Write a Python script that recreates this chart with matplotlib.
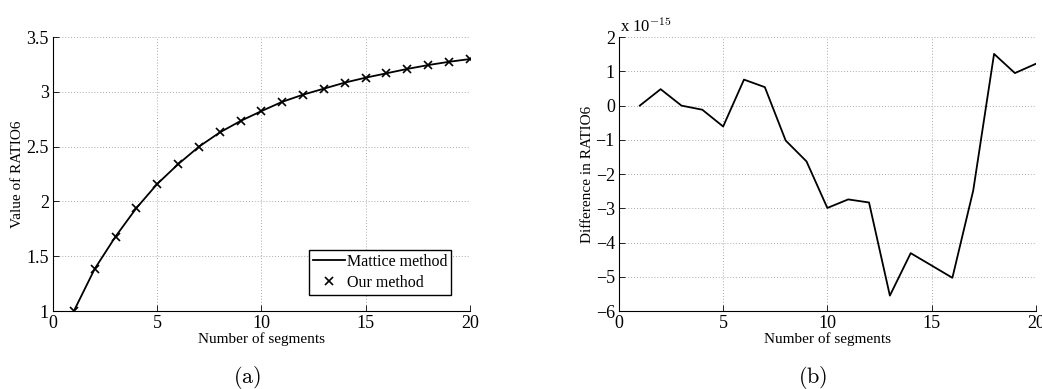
import matplotlib.pyplot as plt

plt.rcParams['font.family'] = ['Liberation Serif', 'DejaVu Serif']
plt.rcParams['mathtext.fontset'] = 'cm'

segments = list(range(1, 21))
ratio6 = [1.00, 1.385, 1.68, 1.94, 2.16, 2.34, 2.50, 2.63, 2.735, 2.825,
          2.91, 2.975, 3.03, 3.085, 3.13, 3.17, 3.21, 3.245, 3.275, 3.30]
# difference in units of 1e-15
diff_e15 = [0.0, 0.48, 0.0, -0.12, -0.61, 0.76, 0.54, -1.02, -1.63, -2.99,
            -2.74, -2.83, -5.55, -4.31, -4.67, -5.03, -2.48, 1.51, 0.95, 1.22]

fig = plt.figure(figsize=(10.42, 3.89), dpi=100, facecolor='white')
ax1 = fig.add_axes([0.0509, 0.2005, 0.400, 0.704])
ax2 = fig.add_axes([0.594, 0.2005, 0.400, 0.704])


def style(ax):
    for s in ['top', 'right']:
        ax.spines[s].set_visible(False)
    ax.spines['left'].set_linewidth(0.8)
    ax.spines['bottom'].set_linewidth(0.8)
    ax.tick_params(direction='in', length=4, width=0.6, labelsize=13, pad=3)
    ax.grid(True, linestyle=(0, (1, 2)), color='#aaaaaa', linewidth=0.7)
    ax.set_axisbelow(True)
    ax.set_xlim(0, 20)
    ax.set_xticks([0, 5, 10, 15, 20])
    ax.set_xlabel('Number of segments', fontsize=11, labelpad=0)


style(ax1)
ax1.plot(segments, ratio6, color='black', lw=1.3, label='Mattice method')
ax1.plot(segments, ratio6, 'x', color='black', ms=6, mew=1.2, label='Our method')
ax1.set_ylim(1, 3.5)
ax1.set_yticks([1, 1.5, 2, 2.5, 3, 3.5])
ax1.set_yticklabels(['1', '1.5', '2', '2.5', '3', '3.5'])
ax1.set_ylabel('Value of RATIO6', fontsize=11, labelpad=2)
leg = ax1.legend(loc='lower right', fontsize=11.5, fancybox=False, framealpha=1,
                 edgecolor='black', bbox_to_anchor=(0.955, 0.06), borderpad=0.25,
                 handlelength=2.0, handletextpad=0.1, borderaxespad=0,
                 labelspacing=0.3)
leg.get_frame().set_linewidth(1.0)

style(ax2)
ax2.plot(segments, diff_e15, color='black', lw=1.3)
ax2.set_ylim(-6, 2)
ax2.set_yticks(range(-6, 3))
ax2.set_yticklabels(['\u22126', '\u22125', '\u22124', '\u22123', '\u22122', '\u22121', '0', '1', '2'])
ax2.set_ylabel('Difference in RATIO6', fontsize=11, labelpad=1)
ax2.text(0.003, 1.005, 'x 10$^{-15}$', transform=ax2.transAxes, fontsize=12,
         ha='left', va='bottom')

fig.text(0.237, 0.03, '$\\mathrm{(a)}$', fontsize=16, ha='center', va='center')
fig.text(0.780, 0.03, '$\\mathrm{(b)}$', fontsize=16, ha='center', va='center')

fig.savefig('out.png', dpi=100)
